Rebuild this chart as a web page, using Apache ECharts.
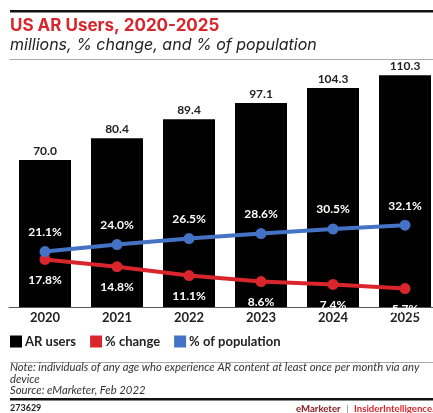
<!DOCTYPE html>
<html><head><meta charset="utf-8">
<script src="https://cdn.jsdelivr.net/npm/echarts@6/dist/echarts.min.js"></script>
<style>html,body{margin:0;padding:0;background:#fff;overflow:hidden;width:433px;height:413px}#c{width:441px;height:413px}</style>
</head><body><div id="c"></div>
<script>
const categories = ['2020','2021','2022','2023','2024','2025'];
const arUsers = [70.0, 80.4, 89.4, 97.1, 104.3, 110.3];
const pctChange = [17.8, 14.8, 11.1, 8.6, 7.4, 5.7];
const pctPopulation = [21.1, 24.0, 26.5, 28.6, 30.5, 32.1];

const FONT = 'Lato, "Noto Sans", sans-serif';
const HFONT = 'Inter, Lato, sans-serif';
const RED = '#d9262c';
const BLUE = '#4473c5';
const chart = echarts.init(document.getElementById('c'), null, {renderer:'canvas'});
chart.setOption({
  animation:false,
  textStyle:{fontFamily:FONT},
  grid:{left:9, right:0, top:55, bottom:106, containLabel:false},
  legend:{
    left:10, top:335, padding:0, itemWidth:12, itemHeight:12, itemGap:14, icon:'rect',
    textStyle:{fontFamily:FONT, fontSize:13, fontWeight:'bold', color:'#222', padding:[0,0,0,-2]},
    data:['AR users','% change','% of population']
  },
  xAxis:{type:'category', data:categories,
    axisLine:{lineStyle:{color:'#555', width:1}}, axisTick:{show:false},
    axisLabel:{fontFamily:FONT, fontSize:13, fontWeight:'bold', color:'#222', margin:4}},
  yAxis:[
    {type:'value', min:0, max:120, show:false, splitLine:{show:false}},
    {type:'value', min:-2, max:103, show:false, splitLine:{show:false}}
  ],
  series:[
    {name:'AR users', type:'bar', data:arUsers, barWidth:52, itemStyle:{color:'#000'},
      label:{show:true, position:'top', distance:3, formatter:p=>p.value.toFixed(1),
        fontFamily:FONT, fontSize:12, fontWeight:'bold', color:'#222'}},
    {name:'% change', type:'line', yAxisIndex:1, data:pctChange, symbol:'circle', symbolSize:11,
      lineStyle:{color:RED, width:4}, itemStyle:{color:RED},
      label:{show:true, position:'bottom', distance:9, formatter:p=>p.value.toFixed(1)+'%',
        fontFamily:FONT, fontSize:12, fontWeight:'bold', color:'#fff'}},
    {name:'% of population', type:'line', yAxisIndex:1, data:pctPopulation, symbol:'circle', symbolSize:11,
      lineStyle:{color:BLUE, width:4}, itemStyle:{color:BLUE},
      label:{show:true, position:'top', distance:8, formatter:p=>p.value.toFixed(1)+'%',
        fontFamily:FONT, fontSize:12, fontWeight:'bold', color:'#fff'}}
  ],
  graphic:[
    {type:'rect', shape:{x:10,y:10,width:431,height:2.5}, style:{fill:'#111'}},
    {type:'text', left:10, top:17, style:{text:'US AR Users, 2020-2025', fontFamily:HFONT, fontSize:17, fontWeight:'bold', fill:RED}},
    {type:'text', left:10, top:37, style:{text:'millions, % change, and % of population', fontFamily:HFONT, fontSize:16, fontStyle:'italic', fill:'#222'}},
    {type:'rect', shape:{x:10,y:59,width:431,height:1}, style:{fill:'#aaa'}},
    {type:'rect', shape:{x:10,y:362,width:431,height:1}, style:{fill:'#aaa'}},
    {type:'text', left:10, top:362, style:{text:'Note: individuals of any age who experience AR content at least once per month via any\ndevice\nSource: eMarketer, Feb 2022', fontFamily:FONT, fontSize:11.3, lineHeight:11.3, fontStyle:'italic', fill:'#333'}},
    {type:'rect', shape:{x:10,y:398,width:431,height:2.5}, style:{fill:'#111'}},
    {type:'text', left:10, top:404, style:{text:'273629', fontFamily:FONT, fontSize:9, fontWeight:'bold', fill:'#222'}},
    {type:'text', left:296, top:403.5, style:{rich:{a:{fontFamily:FONT,fontSize:9.6,fontWeight:'bold',fill:'#8a1c22'}, b:{fontFamily:FONT,fontSize:9.6,fill:'#777',padding:[0,5,0,6]}, c:{fontFamily:FONT,fontSize:9.6,fontWeight:'bold',fill:RED}}, text:'{a|eMarketer}{b||}{c|InsiderIntelligence.com}'}}
  ]
});
</script></body></html>
